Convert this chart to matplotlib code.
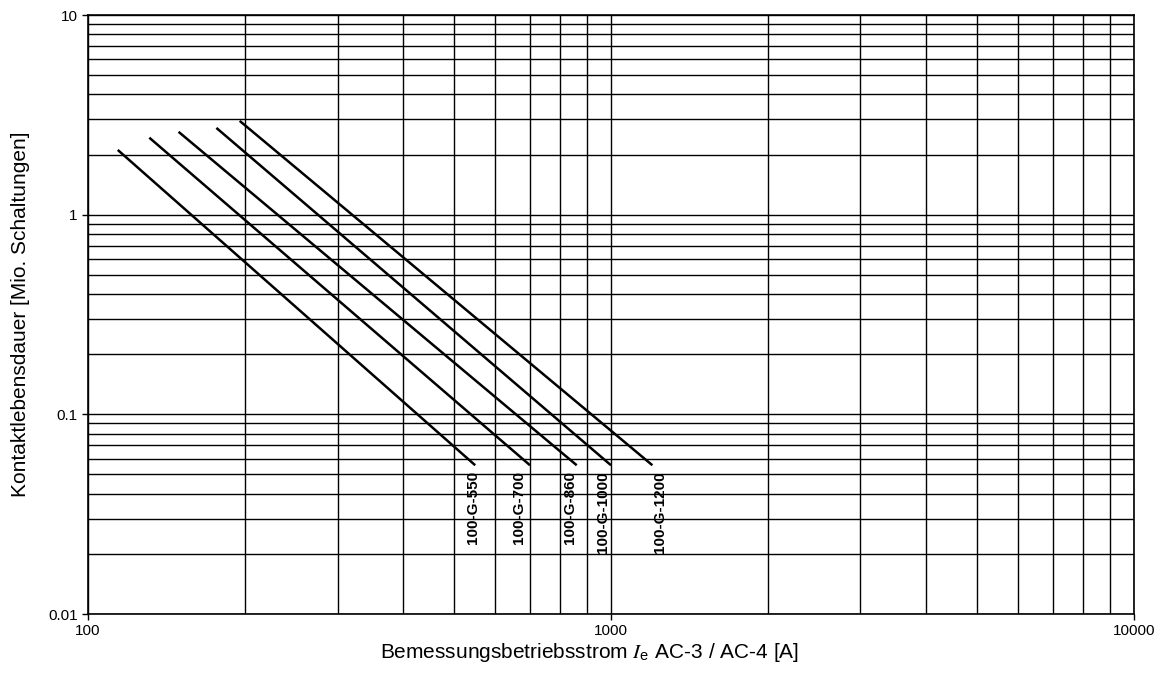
import matplotlib
matplotlib.use("Agg")
import matplotlib.pyplot as plt
from matplotlib.ticker import LogLocator, FixedLocator, NullFormatter

plt.rcParams['font.family'] = ['Liberation Sans', 'DejaVu Sans']
plt.rcParams['mathtext.fontset'] = 'stix'

# contactor types and their life curves (start / end points)
types = ['100-G-550', '100-G-700', '100-G-860', '100-G-1000', '100-G-1200']
x_start = [114, 131, 149, 176, 195]
y_start = [2.11, 2.43, 2.60, 2.72, 2.95]
x_end = [550, 700, 860, 1000, 1200]
y_end = [0.0556, 0.0556, 0.0556, 0.0556, 0.0556]

# label positions (rotated text below curve ends)
label_x = [545, 667, 835, 965, 1241]
label_y = 0.052

x_ticks = [100, 1000, 10000]
x_ticklabels = ['100', '1000', '10000']
y_ticks = [0.01, 0.1, 1, 10]
y_ticklabels = ['0.01', '0.1', '1', '10']

fig = plt.figure(figsize=(11.61, 6.92), dpi=100)
ax = fig.add_axes([0.0758, 0.1127, 0.9009, 0.8656])

ax.set_xscale('log')
ax.set_yscale('log')
ax.set_xlim(100, 10000)
ax.set_ylim(0.01, 10)

# grid: all decades and 2..9 subdivisions, same weight
ax.xaxis.set_major_locator(FixedLocator(x_ticks))
ax.yaxis.set_major_locator(FixedLocator(y_ticks))
ax.xaxis.set_minor_locator(LogLocator(base=10, subs=range(2, 10)))
ax.yaxis.set_minor_locator(LogLocator(base=10, subs=range(2, 10)))
ax.xaxis.set_minor_formatter(NullFormatter())
ax.yaxis.set_minor_formatter(NullFormatter())
ax.set_xticklabels(x_ticklabels)
ax.set_yticklabels(y_ticklabels)
ax.grid(True, which='both', color='black', linewidth=1.0)
ax.tick_params(which='major', direction='out', length=4, width=1, labelsize=11, colors='black')
ax.tick_params(which='minor', length=0)
for s in ax.spines.values():
    s.set_linewidth(1.2)

for i in range(len(types)):
    ax.plot([x_start[i], x_end[i]], [y_start[i], y_end[i]], color='black', linewidth=1.8,
            solid_capstyle='butt')
    ax.text(label_x[i], label_y, types[i], rotation=90, ha='center', va='top',
            fontsize=11, fontweight='bold')

ax.text(-0.065, 0.5, 'Kontaktlebensdauer [Mio. Schaltungen]', transform=ax.transAxes,
        rotation=90, ha='center', va='center', fontsize=15)
ax.text(0.479, -0.064, r'Bemessungsbetriebsstrom $I_\mathregular{e}$ AC-3 / AC-4 [A]',
        transform=ax.transAxes, ha='center', va='center', fontsize=15)

fig.savefig('out.png', dpi=100)
